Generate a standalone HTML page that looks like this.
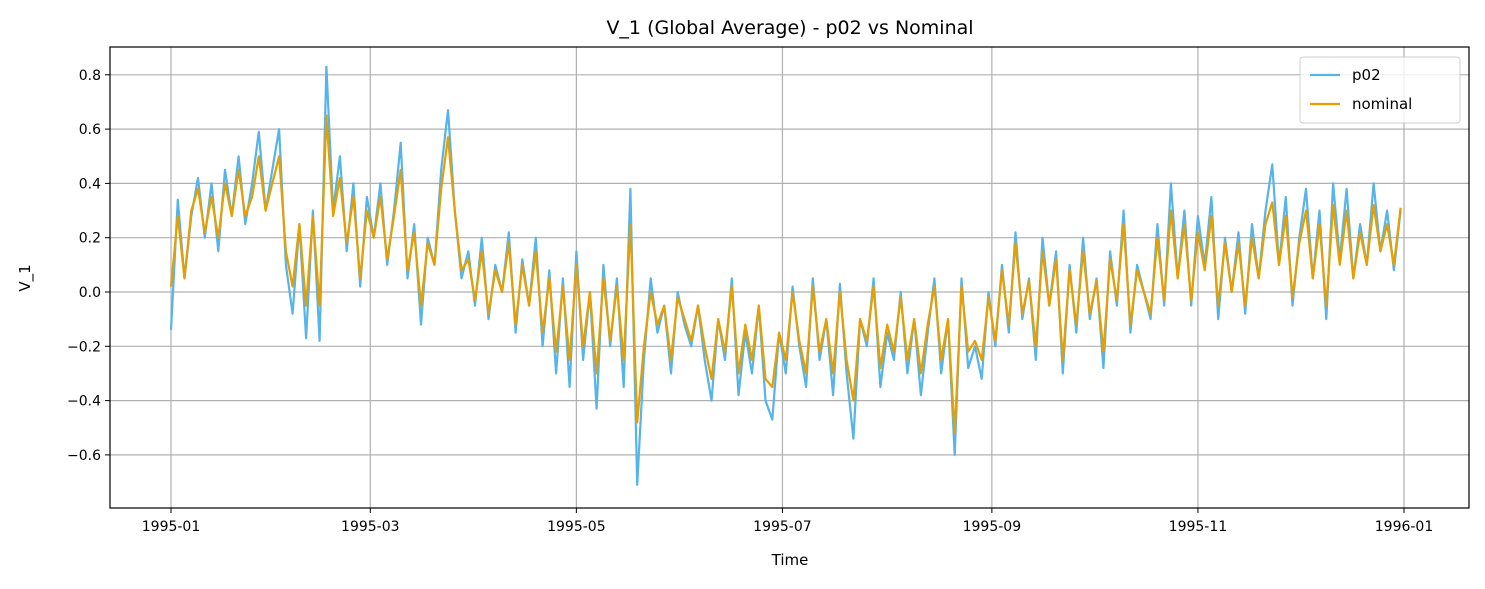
<!DOCTYPE html>
<html><head><meta charset="utf-8"><style>
body{margin:0;background:#fff;}
svg text{font-family:"DejaVu Sans","Liberation Sans",sans-serif;fill:#000;}
</style></head><body>
<svg id="chart" width="1485" height="584" xmlns="http://www.w3.org/2000/svg">
<rect width="1485" height="584" fill="#fff"/>
<g id="grid"></g>
<g id="series"></g>
<rect x="110" y="47" width="1359" height="461" fill="none" stroke="#000" stroke-width="1.2"/>
<g id="axes"></g>
<text x="790" y="34" font-size="19" text-anchor="middle">V_1 (Global Average) - p02 vs Nominal</text>
<text x="790" y="565" font-size="15" text-anchor="middle">Time</text>
<text x="30" y="278" font-size="15" text-anchor="middle" transform="rotate(-90 30 278)">V_1</text>
<g>
<rect x="1300" y="57" width="160" height="66" rx="3" fill="#fff" fill-opacity="0.8" stroke="#ccc"/>
<g><line x1="1310" y1="75" x2="1340" y2="75" stroke="#56b4e9" stroke-width="2.2"/><text x="1352" y="80" font-size="15">p02</text></g>
<g><line x1="1310" y1="104" x2="1340" y2="104" stroke="#e69f00" stroke-width="2.2"/><text x="1352" y="109" font-size="15">nominal</text></g>
</g>
</svg>
<script>
const xTickLabels=["1995-01","1995-03","1995-05","1995-07","1995-09","1995-11","1996-01"];
const xTickDays=[0,59,120,181,243,304,365];
const yTicks=[-0.6,-0.4,-0.2,0.0,0.2,0.4,0.6,0.8];
const dayStep=2;
const p02=[-0.14,0.34,0.05,0.28,0.42,0.20,0.40,0.15,0.45,0.28,
0.50,0.25,0.40,0.59,0.30,0.45,0.60,0.10,-0.08,0.25,
-0.17,0.30,-0.18,0.83,0.30,0.50,0.15,0.40,0.02,0.35,
0.20,0.40,0.10,0.30,0.55,0.05,0.25,-0.12,0.20,0.10,
0.45,0.67,0.30,0.05,0.15,-0.05,0.20,-0.10,0.10,0.00,
0.22,-0.15,0.12,-0.05,0.20,-0.20,0.08,-0.30,0.05,-0.35,
0.15,-0.25,0.00,-0.43,0.10,-0.20,0.05,-0.35,0.38,-0.71,
-0.25,0.05,-0.15,-0.05,-0.30,0.00,-0.12,-0.20,-0.05,-0.25,
-0.40,-0.10,-0.25,0.05,-0.38,-0.15,-0.30,-0.05,-0.40,-0.47,
-0.15,-0.30,0.02,-0.20,-0.35,0.05,-0.25,-0.10,-0.38,0.03,
-0.30,-0.54,-0.10,-0.20,0.05,-0.35,-0.15,-0.25,0.00,-0.30,
-0.10,-0.38,-0.15,0.05,-0.30,-0.10,-0.60,0.05,-0.28,-0.20,
-0.32,0.00,-0.20,0.10,-0.15,0.22,-0.10,0.05,-0.25,0.20,
-0.05,0.15,-0.30,0.10,-0.15,0.20,-0.10,0.05,-0.28,0.15,
-0.05,0.30,-0.15,0.10,0.00,-0.10,0.25,-0.05,0.40,0.05,
0.30,-0.05,0.28,0.10,0.35,-0.10,0.20,0.00,0.22,-0.08,
0.25,0.05,0.30,0.47,0.10,0.35,-0.05,0.20,0.38,0.05,
0.30,-0.10,0.40,0.12,0.38,0.05,0.25,0.10,0.40,0.15,
0.30,0.08,0.30];
const nominal=[0.02,0.28,0.05,0.30,0.38,0.22,0.35,0.20,0.40,0.28,
0.45,0.28,0.35,0.50,0.30,0.40,0.50,0.15,0.02,0.25,
-0.05,0.28,-0.05,0.65,0.28,0.42,0.18,0.35,0.05,0.30,
0.20,0.35,0.12,0.28,0.45,0.08,0.22,-0.05,0.18,0.10,
0.38,0.57,0.30,0.08,0.12,-0.03,0.15,-0.08,0.08,0.00,
0.18,-0.12,0.10,-0.05,0.15,-0.15,0.05,-0.22,0.02,-0.25,
0.10,-0.20,0.00,-0.30,0.05,-0.18,0.02,-0.25,0.25,-0.48,
-0.20,0.00,-0.12,-0.05,-0.25,-0.02,-0.10,-0.18,-0.05,-0.20,
-0.32,-0.10,-0.22,0.02,-0.30,-0.12,-0.25,-0.05,-0.32,-0.35,
-0.15,-0.25,0.00,-0.18,-0.30,0.02,-0.22,-0.10,-0.30,0.00,
-0.25,-0.40,-0.10,-0.18,0.02,-0.28,-0.12,-0.22,-0.02,-0.25,
-0.10,-0.30,-0.12,0.02,-0.25,-0.10,-0.52,0.02,-0.22,-0.18,
-0.25,-0.02,-0.18,0.08,-0.12,0.18,-0.08,0.04,-0.20,0.15,
-0.05,0.12,-0.25,0.08,-0.12,0.15,-0.08,0.04,-0.22,0.12,
-0.03,0.25,-0.12,0.08,0.00,-0.08,0.20,-0.03,0.30,0.05,
0.25,-0.03,0.22,0.08,0.28,-0.05,0.18,0.00,0.18,-0.05,
0.20,0.05,0.25,0.33,0.10,0.28,-0.02,0.18,0.30,0.05,
0.25,-0.05,0.32,0.10,0.30,0.05,0.22,0.10,0.32,0.15,
0.25,0.10,0.31];
const NS="http://www.w3.org/2000/svg";
const X=d=>171+d*(1404-171)/365;
const Y=v=>292-v*271.5;
function mk(t,a,p){const e=document.createElementNS(NS,t);for(const k in a)e.setAttribute(k,a[k]);p.appendChild(e);return e;}
const grid=document.getElementById('grid'),axes=document.getElementById('axes'),ser=document.getElementById('series');
xTickDays.forEach((d,i)=>{
 const g=mk('line',{x1:X(d),x2:X(d),y1:47,y2:508,stroke:'#b0b0b0','stroke-width':1.2},grid);
 
 
 const t=mk('line',{x1:X(d),x2:X(d),y1:508,y2:513,stroke:'#000'},axes);
 
 
 const l=mk('text',{x:X(d),y:531,'font-size':14,'text-anchor':'middle'},axes);l.textContent=xTickLabels[i];
 
 
});
yTicks.forEach(v=>{
 const g=mk('line',{x1:110,x2:1469,y1:Y(v),y2:Y(v),stroke:'#b0b0b0','stroke-width':1.2},grid);
 
 
 const t=mk('line',{x1:105,x2:110,y1:Y(v),y2:Y(v),stroke:'#000'},axes);
 
 
 const l=mk('text',{x:101,y:Y(v)+5,'font-size':14,'text-anchor':'end'},axes);l.textContent=(v<0?'\u2212':'')+Math.abs(v).toFixed(1);
 
 
});
function line(arr,color,name){
 const pts=arr.map((v,i)=>X(i*dayStep).toFixed(1)+','+Y(v).toFixed(1)).join(' ');
 const p=mk('polyline',{points:pts,fill:'none',stroke:color,'stroke-width':2.2,'stroke-linejoin':'round'},ser);
 
 
}
line(p02,'#56b4e9','p02-line');
line(nominal,'#e69f00','nominal-line');
</script>
</body></html>
